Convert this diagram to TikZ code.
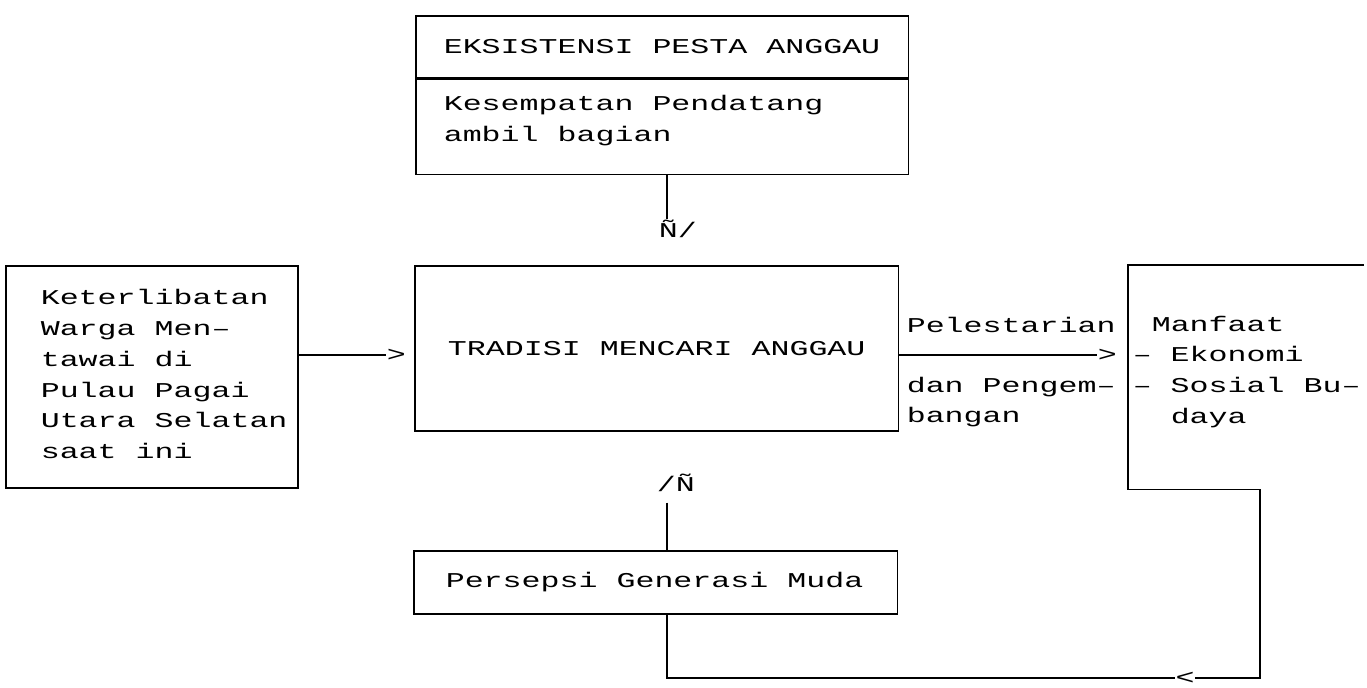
\documentclass[tikz,border=0pt]{standalone}
\usepackage{fontspec}
\setmainfont{Liberation Mono}[FakeStretch=1.5]
\usepackage{tikz}
\usetikzlibrary{positioning}
\newcommand{\ketik}{\fontsize{12pt}{17.5pt}\selectfont}
\tikzset{
  kotak/.style = {draw=black, rectangle, anchor=north west, inner sep=0pt,
    line width=0.9pt, font=\ketik},% kotak bergaris
  teks/.style = {inner sep=0pt, align=left, font=\ketik},% tulisan ketikan
  panah/.style = {teks, anchor=west}% kepala panah ketikan
}

\begin{document}
\begin{tikzpicture}[x=0.02cm, y=-0.02cm, line width=0.9pt]
  \useasboundingbox (0,0) rectangle (1367,687);
  % kotak-kotak
  \node [kotak, minimum width=9.86cm, minimum height=1.24cm] (ekshead) at (415,15) {};
  \node [kotak, minimum width=9.86cm, minimum height=1.90cm] (eksbody) at (ekshead.south west) {};
  \node [kotak, minimum width=5.84cm, minimum height=4.44cm] (warga) at (5,265) {};
  \node [kotak, minimum width=9.68cm, minimum height=3.30cm] (tradisi) at (414,265) {TRADISI MENCARI ANGGAU};
  \node [kotak, draw=none, minimum width=4.68cm, minimum height=4.46cm] (manfaat) at (1128,265) {};
  \node [kotak, minimum width=9.68cm, minimum height=1.26cm] (persepsi) at (413,550) {};
  % isi kotak
  \node [teks, right=0.56cm of ekshead.west] (eksheadteks) {EKSISTENSI PESTA ANGGAU};
  \node [teks, right=0.56cm of eksbody.west, yshift=0.12cm] (eksbodyteks) {Kesempatan Pendatang\\ambil bagian};
  \node [teks, right=0.7cm of warga.west, yshift=0.05cm] (wargateks) {Keterlibatan\\Warga Men–\\tawai di\\Pulau Pagai\\Utara Selatan\\saat ini};
  \node [teks, right=0.08cm of manfaat.west, yshift=0.11cm] (manfaatteks) {\ Manfaat\\– Ekonomi\\– Sosial Bu–\\\ \ daya};
  \node [teks, right=0.64cm of persepsi.west] (persepsiteks) {Persepsi Generasi Muda};
  \node [teks, anchor=west] (lestari) at (906,325) {Pelestarian};
  \node [teks, anchor=west] (kembang) at (906,402) {dan Pengem–\\bangan};
  % kepala panah
  \node [panah] (panahA) at (658,229) {Ñ/};
  \node [panah] (panahB) at (386,355) {>};
  \node [panah] (panahC) at (656,483) {/Ñ};
  \node [panah] (panahD) at (1097,355) {>};
  \node [teks] (panahE) at (1185,678) {<};
  \coordinate (sumbu) at (667,0);
  \coordinate (balik) at (1260,678);
  % garis penghubung
  \draw (sumbu |- eksbody.south) -- (sumbu |- panahA.north);
  \draw (warga.east |- panahB) -- (panahB.west);
  \draw (tradisi.east |- panahD) -- (panahD.west);
  \draw ([yshift=-0.2cm]sumbu |- panahC.south) -- (sumbu |- persepsi.north);
  \draw (manfaat.north east) -- (manfaat.north west) -- (manfaat.south west)
    -- (balik |- manfaat.south) -- (balik) -- (panahE.east);
  \draw (panahE.west) -- (sumbu |- balik) -- (sumbu |- persepsi.south);
\end{tikzpicture}
\end{document}
